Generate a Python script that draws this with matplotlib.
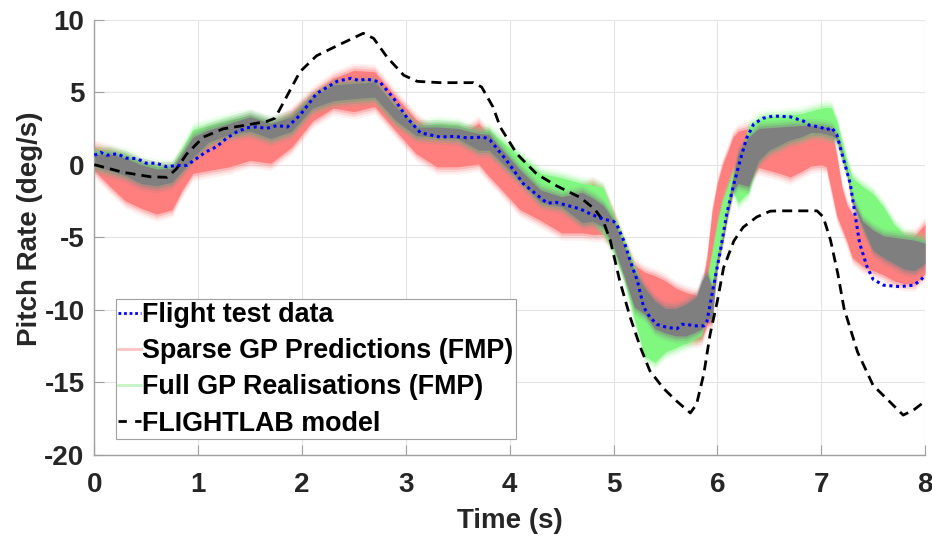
import numpy as np
import matplotlib
matplotlib.use("Agg")
from matplotlib import pyplot as plt
from matplotlib.lines import Line2D

# flight test data (blue dotted)
flight_t = [0.0, 0.06, 0.12, 0.22, 0.31, 0.41, 0.50, 0.60, 0.70, 0.79, 0.89, 0.99, 1.08, 1.18,
            1.27, 1.37, 1.47, 1.56, 1.66, 1.76, 1.86, 1.98, 2.14, 2.34, 2.47, 2.55, 2.62, 2.75,
            2.88, 3.01, 3.14, 3.33, 3.46, 3.59, 3.75, 3.81, 3.97, 4.13, 4.36, 4.45, 4.68, 4.78,
            4.90, 5.00, 5.03, 5.10, 5.16, 5.23, 5.29, 5.35, 5.42, 5.51, 5.61, 5.66, 5.71, 5.77,
            5.87, 5.90, 5.96, 6.03, 6.09, 6.16, 6.22, 6.28, 6.35, 6.44, 6.54, 6.70, 6.83, 6.89,
            6.99, 7.05, 7.10, 7.15, 7.21, 7.28, 7.33, 7.37, 7.44, 7.50, 7.60, 7.76, 7.89, 7.96, 8.0]
flight_q = [0.65, 0.85, 0.65, 0.75, 0.45, 0.42, 0.1, 0.1, -0.15, -0.05, -0.05, 0.45, 0.9, 1.25,
            1.8, 2.25, 2.55, 2.6, 2.5, 2.7, 2.6, 3.4, 4.9, 5.75, 5.95, 5.8, 5.9, 5.7,
            4.6, 3.25, 2.2, 1.9, 1.95, 1.85, 1.9, 1.7, 0.3, -1.3, -2.65, -2.6, -3.05, -3.4,
            -3.75, -3.9, -4.1, -5.25, -6.6, -8.0, -9.8, -10.5, -11.0, -11.2, -11.3, -11.0, -11.0, -11.1,
            -11.1, -10.8, -8.5, -5.9, -3.4, -1.3, 0.3, 1.8, 2.8, 3.2, 3.35, 3.3, 3.0, 2.7,
            2.6, 2.4, 2.55, 2.1, 0.5, -1.3, -3.6, -5.4, -7.0, -7.9, -8.3, -8.4, -8.3, -7.95, -7.6]

# FLIGHTLAB model (black dashed)
flightlab_t = [0.0, 0.28, 0.54, 0.70, 0.79, 0.89, 1.05, 1.24, 1.44, 1.66, 1.74, 1.85, 1.98, 2.14,
               2.34, 2.59, 2.69, 2.82, 2.98, 3.11, 3.33, 3.65, 3.73, 3.84, 3.91, 4.07, 4.26, 4.45,
               4.68, 4.82, 4.90, 4.97, 5.06, 5.16, 5.26, 5.35, 5.48, 5.61, 5.74, 5.80, 5.87, 5.93,
               6.00, 6.06, 6.16, 6.25, 6.38, 6.51, 6.61, 6.96, 7.02, 7.09, 7.16, 7.22, 7.35, 7.50,
               7.67, 7.79, 7.89, 8.0]
flightlab_q = [0.0, -0.53, -0.83, -0.87, -0.3, 0.74, 1.9, 2.47, 2.7, 2.98, 3.2, 4.66, 6.4, 7.5,
               8.2, 9.05, 8.7, 7.4, 6.16, 5.74, 5.65, 5.65, 5.35, 3.97, 2.58, 0.74, -0.64, -1.45,
               -2.26, -3.07, -3.86, -5.24, -8.0, -10.5, -12.6, -14.2, -15.4, -16.3, -17.1, -16.5, -14.4, -11.7,
               -9.4, -7.1, -5.24, -4.3, -3.6, -3.2, -3.18, -3.18, -3.6, -5.2, -7.5, -9.9, -12.9, -15.2,
               -16.4, -17.25, -16.9, -16.3]

# prediction envelopes
band_t = [0.0, 0.15, 0.3, 0.45, 0.6, 0.75, 0.85, 0.95, 1.1, 1.3, 1.5, 1.7, 1.9, 2.1, 2.3, 2.5,
          2.7, 2.9, 3.1, 3.3, 3.5, 3.7, 3.8, 3.9, 4.1, 4.3, 4.5, 4.7, 4.8, 4.9, 5.0, 5.1,
          5.2, 5.3, 5.4, 5.5, 5.6, 5.7, 5.8, 5.85, 5.9, 5.95, 6.0, 6.05, 6.1, 6.15, 6.2, 6.3,
          6.4, 6.5, 6.6, 6.7, 6.8, 6.9, 7.0, 7.05, 7.1, 7.15, 7.2, 7.25, 7.3, 7.4, 7.5, 7.6,
          7.7, 7.8, 7.9, 8.0]
sparse_hi = [1.2, 0.9, 0.5, 0.0, -0.3, -0.3, 0.3, 1.0, 1.7, 2.2, 2.4, 2.6, 3.55, 4.9, 5.95, 6.5,
             6.4, 4.7, 3.1, 2.0, 1.9, 2.85, 2.0, 1.0, -0.4, -1.9, -2.3, -1.6, -1.3, -1.8, -3.4, -5.3,
             -6.9, -7.4, -7.65, -8.0, -8.5, -8.8, -9.0, -8.5, -6.4, -3.2, -1.3, 0.0, 0.9, 1.9, 2.3, 2.5,
             2.0, 1.9, 1.9, 1.9, 2.0, 2.1, 2.3, 2.4, 2.4, 0.6, -1.6, -2.8, -3.4, -3.95, -4.1, -4.5,
             -4.8, -5.0, -4.9, -4.1]
sparse_lo = [-0.4, -1.5, -2.5, -3.0, -3.4, -3.1, -1.7, -0.6, -0.4, -0.15, 0.3, 0.1, 1.2, 3.0, 3.9, 3.65,
             4.0, 2.35, 0.75, -0.15, -0.15, 0.05, -0.8, -1.55, -3.1, -3.85, -4.7, -4.7, -4.8, -4.8, -5.5, -7.0,
             -8.8, -10.0, -10.0, -11.2, -11.5, -12.0, -12.1, -12.0, -11.0, -10.8, -5.0, -2.5, -1.8, -0.5, -1.0, -0.8,
             -0.2, -0.4, -0.6, -0.85, -0.5, -0.1, 0.0, -0.15, -1.8, -3.5, -4.4, -5.3, -6.4, -7.0, -7.3, -7.6,
             -8.0, -8.2, -8.2, -7.5]
full_hi = [0.95, 0.9, 0.7, 0.15, -0.1, -0.1, 1.1, 2.4, 2.7, 3.1, 3.4, 2.9, 3.3, 4.6, 5.4, 5.5,
           5.6, 3.9, 2.6, 2.85, 2.75, 2.2, 2.4, 1.75, 0.55, -0.6, -0.9, -1.3, -1.4, -1.6, -3.5, -5.2,
           -7.0, -9.0, -10.0, -10.5, -11.0, -11.2, -11.0, -9.5, -8.0, -6.0, -4.0, -2.5, -1.5, -0.5, -0.5, 2.6,
           3.15, 3.35, 3.35, 3.45, 3.5, 3.7, 3.9, 3.95, 3.9, 3.0, 1.6, 0.2, -0.9, -1.5, -2.0, -2.9,
           -4.1, -4.8, -5.0, -5.2]
full_lo = [0.0, -0.3, -0.6, -1.0, -1.2, -1.0, -0.2, 0.7, 1.6, 2.2, 2.4, 1.9, 2.4, 4.0, 4.5, 4.6,
           4.7, 3.1, 2.1, 2.0, 1.9, 1.1, 1.1, 0.4, -1.0, -2.5, -2.8, -3.8, -3.8, -4.6, -5.9, -7.8,
           -10.6, -13.2, -13.6, -12.9, -12.6, -12.3, -11.9, -11.7, -10.0, -9.0, -6.8, -5.0, -3.3, -1.8, -2.6, -1.9,
           0.5, 1.1, 1.4, 1.8, 1.9, 2.2, 2.2, 2.1, 2.0, 1.8, 0.4, -0.6, -2.2, -4.2, -4.5, -5.0,
           -5.2, -5.3, -5.4, -5.6]
grey_hi = [0.7, 0.75, 0.45, 0.0, -0.3, -0.25, 0.8, 1.9, 2.4, 2.85, 3.3, 2.85, 3.3, 4.65, 5.5, 5.6,
           5.7, 4.0, 2.6, 2.6, 2.5, 2.15, 2.1, 1.25, -0.35, -1.75, -2.2, -1.9, -2.3, -2.8, -3.8, -5.6,
           -7.3, -8.5, -9.4, -9.9, -9.9, -9.6, -9.1, -8.0, -7.5, -8.5, -6.5, -5.0, -3.0, -1.0, 0.8, 1.9,
           2.5, 2.55, 2.6, 2.65, 2.7, 2.7, 2.65, 2.6, 2.5, 2.0, 0.9, -0.5, -2.4, -3.9, -4.5, -4.9,
           -5.0, -5.1, -5.2, -5.4]
grey_lo = [-0.1, -0.4, -0.75, -1.3, -1.45, -1.2, -0.4, 0.5, 1.55, 2.1, 2.3, 1.8, 2.3, 3.9, 4.4, 4.55,
           4.65, 3.05, 2.0, 1.9, 1.8, 1.0, 1.0, 0.3, -1.1, -2.6, -2.9, -4.0, -3.9, -4.3, -5.6, -7.6,
           -9.8, -10.3, -11.3, -11.6, -11.8, -11.8, -11.5, -11.3, -10.6, -10.6, -6.9, -5.3, -3.4, -1.8, -1.3, -1.5,
           0.3, 1.0, 1.35, 1.7, 1.9, 2.2, 2.2, 2.1, 2.0, 1.8, 0.8, -0.6, -2.6, -4.3, -5.9, -6.4,
           -6.8, -7.2, -7.3, -6.8]

xticks = [0, 1, 2, 3, 4, 5, 6, 7, 8]
yticks = [-20, -15, -10, -5, 0, 5, 10]

plt.rcParams['font.family'] = ['Liberation Sans', 'DejaVu Sans']
plt.rcParams['font.weight'] = 'bold'
plt.rcParams['axes.unicode_minus'] = False

fig = plt.figure(figsize=(9.32, 5.39), dpi=100)
ax = fig.add_axes([0.1012, 0.1558, 0.8913, 0.808])

t = np.array(band_t)


def fuzzy_band(hi, lo, color):
    hi = np.array(hi)
    lo = np.array(lo)
    # soft edge like the many overlaid realisations in the original
    for m, a in [(0.5, 0.12), (0.33, 0.2), (0.17, 0.35)]:
        ax.fill_between(t, hi + m, lo - m, color=color, alpha=a, lw=0, zorder=2)
    ax.fill_between(t, hi, lo, color=color, lw=0, zorder=2)


fuzzy_band(sparse_hi, sparse_lo, '#ff7f7f')
fuzzy_band(full_hi, full_lo, '#80f880')
fuzzy_band(grey_hi, grey_lo, '#7f7f7f')

ax.plot(flightlab_t, flightlab_q, color='k', lw=2, dashes=(3.6, 2.2), zorder=4)
ax.plot(flight_t, flight_q, color='#0000ff', lw=2.2, ls=(0, (1, 1.2)), zorder=5)

ax.set_xlim(0, 8)
ax.set_ylim(-20, 10)
ax.set_xticks(xticks)
ax.set_yticks(yticks)
ax.grid(True, color='#e4e4e4', lw=0.8)
ax.set_axisbelow(True)
for s in ['top', 'right']:
    ax.spines[s].set_visible(False)
for s in ['left', 'bottom']:
    ax.spines[s].set_color('#a0a0a0')
    ax.spines[s].set_linewidth(1.0)
ax.tick_params(direction='in', length=7, color='#a0a0a0', labelsize=20,
               labelcolor='#262626')
ax.tick_params(axis='x', pad=12)
ax.tick_params(axis='y', pad=7)

ax.set_xlabel('Time (s)', fontsize=20, fontweight='bold', color='#262626')
ax.set_ylabel('Pitch Rate (deg/s)', fontsize=20, fontweight='bold', color='#262626')
ax.xaxis.set_label_coords(0.5, -0.122)
ax.yaxis.set_label_coords(-0.062, 0.52)

handles = [
    Line2D([], [], color='#0000ff', lw=2, ls=(0, (1, 1))),
    Line2D([], [], color='#f9c4c4', lw=2),
    Line2D([], [], color='#c4f4c4', lw=2),
    Line2D([], [], color='k', lw=2, dashes=(3, 3)),
]
labels = ['Flight test data', 'Sparse GP Predictions (FMP)',
          'Full GP Realisations (FMP)', 'FLIGHTLAB model']
leg = ax.legend(handles, labels, loc='lower left', bbox_to_anchor=(0.0255, 0.036),
                borderaxespad=0, fontsize=19.4, handlelength=0.85, handletextpad=0.02,
                labelspacing=0.38, borderpad=0.1, fancybox=False, framealpha=1,
                edgecolor='#a0a0a0')
leg.get_frame().set_linewidth(0.8)
leg.set_zorder(10)

fig.savefig('out.png', dpi=100)
